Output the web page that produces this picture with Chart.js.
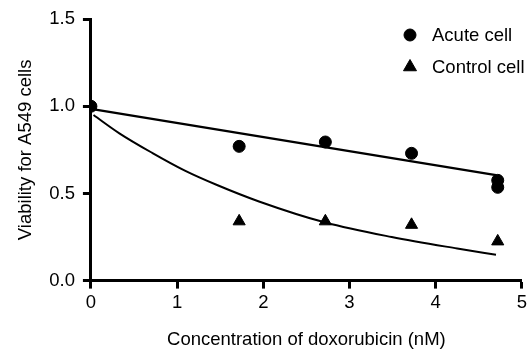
<!DOCTYPE html>
<html>
<head>
<meta charset="utf-8">
<script src="https://cdn.jsdelivr.net/npm/chart.js@4"></script>
<style>
  html, body { margin: 0; padding: 0; background: #fff; }
  #wrap { width: 530px; height: 354px; }
</style>
</head>
<body>
<div id="wrap"><canvas id="viabilityChart"></canvas></div>
<script>
// Measured points (doxorubicin concentration, nM)
const acuteX = [0, 1.72, 2.72, 3.72, 4.72, 4.72];
const acuteY = [1.0, 0.77, 0.795, 0.73, 0.575, 0.535];
const controlX = [0, 1.72, 2.72, 3.72, 4.72];
const controlY = [1.0, 0.34, 0.34, 0.32, 0.225];

// Fitted lines
const acuteFitX = [0, 4.7];
const acuteFitY = [0.985, 0.605];
const controlFitX = [0.03, 0.33, 0.71, 1.09, 1.47, 1.95, 2.72, 3.49, 4.25, 4.7];
const controlFitY = [0.95, 0.845, 0.733, 0.631, 0.547, 0.454, 0.333, 0.25, 0.184, 0.148];

const xTicks = [0, 1, 2, 3, 4, 5];
const yTicks = [0.0, 0.5, 1.0, 1.5];

const FONT = '"Liberation Sans", Arial, Helvetica, sans-serif';
const FSIZE = 18.5;

function toPoints(xs, ys) {
    return xs.map((x, i) => ({ x: x, y: ys[i] }));
}

// Legend drawn at top right, inside the plot
const legendPlugin = {
    id: 'cornerLegend',
    afterDraw(chart) {
        const ctx = chart.ctx;
        const items = [
            { label: chart.data.datasets[0].label, style: 'circle', r: 6, y: 35 },
            { label: chart.data.datasets[1].label, style: 'triangle', r: 7.5, y: 67 }
        ];
        ctx.save();
        ctx.font = FSIZE + 'px ' + FONT;
        ctx.textBaseline = 'middle';
        ctx.textAlign = 'left';
        items.forEach(it => {
            ctx.fillStyle = '#000';
            ctx.strokeStyle = '#000';
            ctx.lineWidth = 1;
            Chart.helpers.drawPoint(ctx, { pointStyle: it.style, radius: it.r, borderWidth: 1 }, 410, it.y);
            ctx.fillStyle = '#000';
            ctx.fillText(it.label, 432, it.y + 1);
        });
        ctx.restore();
    }
};

const ctx = document.getElementById('viabilityChart').getContext('2d');

new Chart(ctx, {
    type: 'scatter',
    data: {
        datasets: [
            {
                label: 'Acute cell',
                data: toPoints(acuteX, acuteY),
                pointStyle: 'circle',
                pointRadius: 6,
                backgroundColor: '#000',
                borderColor: '#000',
                order: 0
            },
            {
                label: 'Control cell',
                data: toPoints(controlX, controlY),
                pointStyle: 'triangle',
                pointRadius: 7,
                backgroundColor: '#000',
                borderColor: '#000',
                order: 0
            },
            {
                label: 'Acute fit',
                type: 'line',
                data: toPoints(acuteFitX, acuteFitY),
                borderColor: '#000',
                borderWidth: 2.5,
                pointRadius: 0,
                fill: false,
                order: 1
            },
            {
                label: 'Control fit',
                type: 'line',
                data: toPoints(controlFitX, controlFitY),
                borderColor: '#000',
                borderWidth: 2,
                pointRadius: 0,
                cubicInterpolationMode: 'monotone',
                fill: false,
                order: 1
            }
        ]
    },
    options: {
        responsive: true,
        maintainAspectRatio: false,
        animation: false,
        layout: {
            padding: { left: 11, right: 5, top: 15, bottom: 3 }
        },
        plugins: {
            legend: { display: false },
            tooltip: { enabled: false }
        },
        scales: {
            x: {
                type: 'linear',
                min: 0,
                max: 5,
                afterBuildTicks: s => { s.ticks = xTicks.map(v => ({ value: v })); },
                ticks: {
                    color: '#000',
                    font: { family: FONT, size: FSIZE },
                    padding: 3,
                    callback: v => String(v)
                },
                grid: {
                    drawOnChartArea: false,
                    drawTicks: true,
                    tickLength: 8,
                    tickWidth: 3,
                    tickColor: '#000'
                },
                border: { display: true, color: '#000', width: 3 },
                title: {
                    display: true,
                    text: 'Concentration of doxorubicin (nM)',
                    color: '#000',
                    font: { family: FONT, size: FSIZE },
                    padding: { top: 12, bottom: 0 }
                }
            },
            y: {
                type: 'linear',
                min: 0,
                max: 1.5,
                afterBuildTicks: s => { s.ticks = yTicks.map(v => ({ value: v })); },
                ticks: {
                    color: '#000',
                    font: { family: FONT, size: FSIZE },
                    padding: 8,
                    callback: v => Number(v).toFixed(1)
                },
                grid: {
                    drawOnChartArea: false,
                    drawTicks: true,
                    tickLength: 8,
                    tickWidth: 3,
                    tickColor: '#000'
                },
                border: { display: true, color: '#000', width: 3 },
                title: {
                    display: true,
                    text: 'Viability for A549 cells',
                    color: '#000',
                    font: { family: FONT, size: FSIZE },
                    padding: { top: 4, bottom: 4 }
                }
            }
        }
    },
    plugins: [legendPlugin]
});
</script>
</body>
</html>
